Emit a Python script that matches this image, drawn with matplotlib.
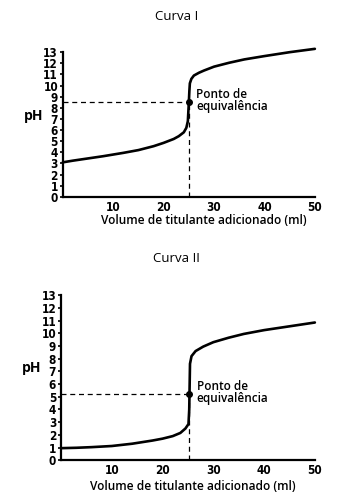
import matplotlib.pyplot as plt

vol_1 = [0, 2, 5, 8, 10, 12, 15, 18, 20, 22, 23, 24, 24.5, 24.8, 25, 25.1, 25.2, 25.5, 26, 27, 28, 30, 33, 36, 40, 45, 50]
ph_1 = [3.1, 3.25, 3.45, 3.65, 3.8, 3.95, 4.2, 4.55, 4.85, 5.2, 5.45, 5.8, 6.2, 6.8, 8.5, 9.5, 10.2, 10.6, 10.9, 11.15, 11.35, 11.7, 12.05, 12.35, 12.65, 13.0, 13.3]
eq_1 = (25, 8.55)

vol_2 = [0, 3, 6, 10, 14, 18, 20, 22, 23.5, 24.5, 25.1, 25.25, 25.3, 25.4, 25.7, 26.5, 28, 30, 33, 36, 40, 45, 50]
ph_2 = [0.95, 0.98, 1.03, 1.12, 1.3, 1.55, 1.7, 1.9, 2.15, 2.5, 2.85, 4.0, 5.25, 7.6, 8.2, 8.6, 8.95, 9.3, 9.65, 9.95, 10.25, 10.55, 10.85]
eq_2 = (25.2, 5.25)

x_ticks = [10, 20, 30, 40, 50]
y_ticks = list(range(14))

fig = plt.figure(figsize=(3.53, 4.97), dpi=100)
fig.patch.set_facecolor('white')

tick_font = dict(family=['DejaVu Sans'], fontstretch='condensed', weight='bold', size=8.5)


def draw(ax, vol, ph, eq, title, title_y, xlab_x):
    ax.plot(vol, ph, color='black', lw=1.9, solid_capstyle='round', clip_on=False)
    ax.plot([0, eq[0]], [eq[1], eq[1]], color='black', lw=0.9, ls=(0, (4, 3)))
    ax.plot([eq[0], eq[0]], [0, eq[1]], color='black', lw=0.9, ls=(0, (4, 3)))
    ax.plot([eq[0]], [eq[1]], 'o', color='black', ms=4)
    ax.text(eq[0] + 1.5, eq[1] + 0.1, 'Ponto de\nequivalência', fontsize=8.5,
            va='center', ha='left', linespacing=0.95, family=['Open Sans'],
            weight='semibold')
    ax.set_xlim(0, 50)
    ax.set_ylim(0, 13)
    ax.set_xticks(x_ticks)
    ax.set_yticks(y_ticks)
    ax.set_xticklabels([str(v) for v in x_ticks], **tick_font)
    ax.set_yticklabels([str(v) for v in y_ticks], **tick_font)
    ax.tick_params(axis='y', length=2.5, width=1.2, pad=1)
    ax.tick_params(axis='x', length=0, pad=3)
    for s in ['top', 'right']:
        ax.spines[s].set_visible(False)
    for s in ['left', 'bottom']:
        ax.spines[s].set_linewidth(1.6)
    ax.set_xlabel('Volume de titulante adicionado (ml)', fontsize=8.6,
                  family=['Open Sans'], weight='semibold')
    ax.xaxis.set_label_coords(xlab_x, -0.12)
    ax.set_ylabel('pH', fontsize=10, rotation=0, family=['Open Sans'],
                  weight='bold', va='center')
    ax.yaxis.set_label_coords(-0.115, 0.56)
    fig.text(0.5, title_y, title, ha='center', va='center', fontsize=9.5,
             family=['Open Sans'])


ax1 = fig.add_axes([0.178, 0.604, 0.714, 0.291])
draw(ax1, vol_1, ph_1, eq_1, 'Curva I', 1 - 16 / 497, 0.56)

ax2 = fig.add_axes([0.173, 0.074, 0.719, 0.332])
draw(ax2, vol_2, ph_2, eq_2, 'Curva II', 1 - 258 / 497, 0.52)

fig.savefig('out.png', dpi=100, facecolor='white')
